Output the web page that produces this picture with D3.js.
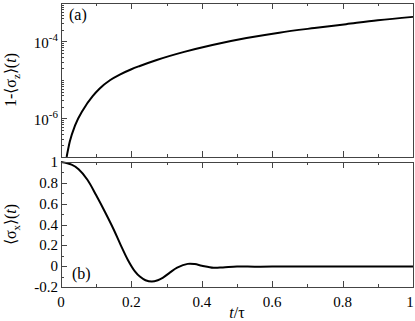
<!DOCTYPE html>
<html>
<head>
<meta charset="utf-8">
<script src="https://cdn.jsdelivr.net/npm/d3@7"></script>
<style>
  html, body { margin: 0; padding: 0; background: #fff; }
  .frame { fill: none; stroke: #444; stroke-width: 1; }
  .tick-mark { stroke: #444; stroke-width: 1; }
  .tick-label { font-size: 15px; fill: #000; }
  .axis-label { font-size: 16px; fill: #000; }
  .curve { fill: none; stroke: #000; stroke-width: 2; }
</style>
</head>
<body>
<div id="chart"></div>
<script>
// Values.
// Panel (a): time t/tau and log10 of 1-<sigma_z>(t).
const timeA = [0.016, 0.025, 0.04, 0.063, 0.09, 0.11, 0.14, 0.167, 0.2, 0.224, 0.272, 0.35, 0.43, 0.527, 0.62, 0.72, 0.81, 0.9, 1.0];
const logSigmaZ = [-7.0, -6.6, -6.18, -5.77, -5.42, -5.22, -5.0, -4.86, -4.72, -4.635, -4.48, -4.27, -4.09, -3.91, -3.77, -3.65, -3.55, -3.45, -3.36];

// Panel (b): time t/tau and <sigma_x>(t).
const timeB = [0, 0.03, 0.05, 0.075, 0.1, 0.125, 0.15, 0.17, 0.19, 0.21, 0.224, 0.24, 0.258, 0.275, 0.29, 0.31, 0.33, 0.36, 0.38, 0.4, 0.433, 0.46, 0.5, 0.55, 0.6, 0.7, 0.8, 0.9, 1.0];
const sigmaX = [1, 0.975, 0.93, 0.83, 0.68, 0.52, 0.35, 0.2, 0.06, -0.05, -0.1, -0.135, -0.148, -0.135, -0.11, -0.06, -0.015, 0.022, 0.02, 0.005, -0.015, -0.012, -0.004, -0.005, -0.004, -0.004, -0.004, -0.004, -0.004];

// Tick values and labels.
const xMajorTicks = [0, 0.2, 0.4, 0.6, 0.8, 1];
const xMinorTicks = [0.1, 0.3, 0.5, 0.7, 0.9];
const yMajorTicksA = [1e-6, 1e-4];
const yMajorLabelsA = ["-6", "-4"];
const yMajorTicksB = [-0.2, 0, 0.2, 0.4, 0.6, 0.8, 1];
const yMajorLabelsB = ["-0.2", "0", "0.2", "0.4", "0.6", "0.8", "1"];
const yMinorTicksB = [-0.1, 0.1, 0.3, 0.5, 0.7, 0.9];

(function drawChart() {
  "use strict";

  const width = 415;
  const height = 321;
  const plotLeft = 61;
  const plotRight = 413;
  const panelA = { top: 3, bottom: 157 };
  const panelB = { top: 162, bottom: 287 };
  const serif = "Liberation Serif";

  const svg = d3.select("#chart")
    .append("svg")
    .attr("width", width)
    .attr("height", height);

  const xScale = d3.scaleLinear().domain([0, 1]).range([plotLeft, plotRight]);
  const yScaleA = d3.scaleLog().domain([1e-7, 1e-3]).range([panelA.bottom, panelA.top]);
  const yScaleB = d3.scaleLinear().domain([-0.2, 1]).range([panelB.bottom, panelB.top]);

  // Log-scale minor ticks: k * 10^n for every decade in the domain.
  const yMinorTicksA = [];
  for (let n = -7; n < -3; n += 1) {
    for (let k = 1; k <= 9; k += 1) {
      if (k === 1 && (n === -6 || n === -4)) continue;
      yMinorTicksA.push(k * Math.pow(10, n));
    }
  }

  // Text helper so every label carries the serif face directly.
  function addText(parent, cls) {
    return parent.append("text").attr("class", cls).style("font-family", serif);
  }

  // Draws ticks pointing into the panel on the top and bottom edges.
  function drawXTicks(panel, withLabels) {
    const g = svg.append("g");
    function addTick(v, len) {
      const x = Math.round(xScale(v)) + 0.5;
      g.append("line").attr("class", "tick-mark")
        .attr("x1", x).attr("x2", x).attr("y1", panel.bottom).attr("y2", panel.bottom - len);
      g.append("line").attr("class", "tick-mark")
        .attr("x1", x).attr("x2", x).attr("y1", panel.top).attr("y2", panel.top + len);
    }
    xMajorTicks.forEach(function addMajor(v) { addTick(v, 6); });
    xMinorTicks.forEach(function addMinor(v) { addTick(v, 3); });
    if (withLabels) {
      xMajorTicks.forEach(function addLabel(v) {
        addText(g, "tick-label")
          .attr("x", Math.min(xScale(v), 410)).attr("y", panel.bottom + 20)
          .attr("text-anchor", "middle")
          .text(d3.format("")(v));
      });
    }
  }

  // Draws ticks on the left edge of a panel.
  function drawYTicks(scale, majors, minors) {
    const g = svg.append("g");
    majors.forEach(function addMajor(v) {
      const y = Math.round(scale(v)) + 0.5;
      g.append("line").attr("class", "tick-mark")
        .attr("x1", plotLeft).attr("x2", plotLeft + 6).attr("y1", y).attr("y2", y);
    });
    minors.forEach(function addMinor(v) {
      const y = Math.round(scale(v)) + 0.5;
      g.append("line").attr("class", "tick-mark")
        .attr("x1", plotLeft).attr("x2", plotLeft + 3).attr("y1", y).attr("y2", y);
    });
    return g;
  }

  // Panel (a) curve on log scale.
  svg.append("clipPath").attr("id", "clipA")
    .append("rect").attr("x", plotLeft).attr("y", panelA.top)
    .attr("width", plotRight - plotLeft).attr("height", panelA.bottom - panelA.top);

  const lineA = d3.line()
    .x(function getX(d, i) { return xScale(timeA[i]); })
    .y(function getY(d) { return yScaleA(Math.pow(10, d)); })
    .curve(d3.curveMonotoneX);

  svg.append("path").attr("class", "curve")
    .attr("clip-path", "url(#clipA)")
    .attr("d", lineA(logSigmaZ));

  // Panel (b) curve.
  const lineB = d3.line()
    .x(function getX(d, i) { return xScale(timeB[i]); })
    .y(function getY(d) { return yScaleB(d); })
    .curve(d3.curveCatmullRom.alpha(0.5));

  svg.append("path").attr("class", "curve")
    .attr("d", lineB(sigmaX));

  // Frames.
  [panelA, panelB].forEach(function addFrame(panel) {
    svg.append("rect").attr("class", "frame")
      .attr("x", plotLeft + 0.5).attr("y", panel.top + 0.5)
      .attr("width", plotRight - plotLeft).attr("height", panel.bottom - panel.top);
  });

  drawXTicks(panelA, false);
  drawXTicks(panelB, true);

  // Y ticks and labels, panel (a).
  const gA = drawYTicks(yScaleA, yMajorTicksA, yMinorTicksA);
  yMajorTicksA.forEach(function addLabel(v, i) {
    const t = addText(gA, "tick-label")
      .attr("x", plotLeft - 3).attr("y", yScaleA(v) + 6)
      .attr("text-anchor", "end");
    t.append("tspan").text("10");
    t.append("tspan").attr("font-size", "11px").attr("dy", -7).text(yMajorLabelsA[i]);
  });

  // Y ticks and labels, panel (b).
  const gB = drawYTicks(yScaleB, yMajorTicksB, yMinorTicksB);
  yMajorTicksB.forEach(function addLabel(v, i) {
    addText(gB, "tick-label")
      .attr("x", plotLeft - 3).attr("y", yScaleB(v) + 5)
      .attr("text-anchor", "end")
      .text(yMajorLabelsB[i]);
  });

  // Panel tags.
  addText(svg, "axis-label").attr("x", 69).attr("y", 20).text("(a)");
  addText(svg, "axis-label").attr("x", 72).attr("y", 279).text("(b)");

  // Y-axis titles with subscripts.
  function addYTitle(cy, sub) {
    const title = addText(svg, "axis-label")
      .attr("transform", "translate(16," + cy + ") rotate(-90)")
      .attr("text-anchor", "middle");
    title.append("tspan").text((sub === "z" ? "1-" : "") + "\u27e8\u03c3");
    title.append("tspan").attr("font-size", "11px").attr("dy", 4).text(sub);
    title.append("tspan").attr("dy", -4).text("\u27e9(");
    title.append("tspan").attr("font-style", "italic").text("t");
    title.append("tspan").text(")");
  }
  addYTitle((panelA.top + panelA.bottom) / 2, "z");
  addYTitle((panelB.top + panelB.bottom) / 2, "x");

  // X-axis title.
  const titleX = addText(svg, "axis-label")
    .attr("x", (plotLeft + plotRight) / 2).attr("y", 318)
    .attr("text-anchor", "middle");
  titleX.append("tspan").attr("font-style", "italic").text("t");
  titleX.append("tspan").text("/\u03c4");
})();
</script>
</body>
</html>
